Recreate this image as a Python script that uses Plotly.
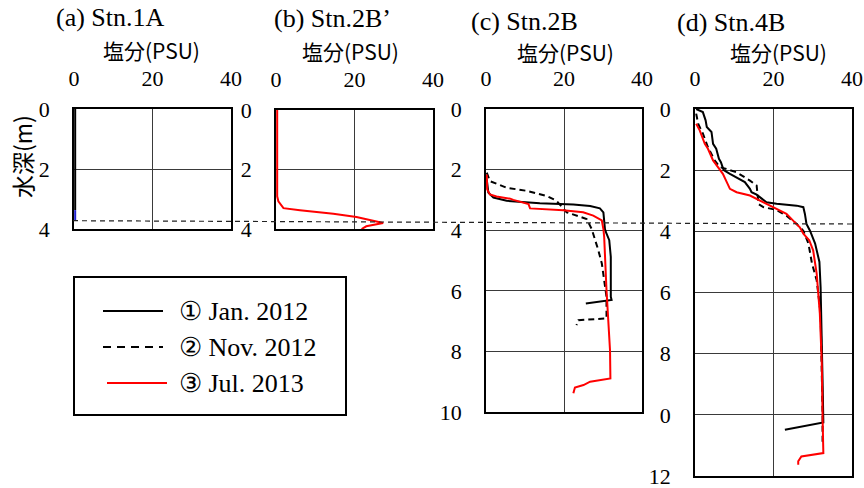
import plotly.graph_objects as go

W, H = 864, 488

# ---------------- data ----------------
# Panel (a) Stn.1A
a_sal_top = [0.3, 0.3]
a_dep_top = [0.0, 3.37]
a_sal_bot = [0.3, 0.3]
a_dep_bot = [3.37, 3.73]

# Panel (b) Stn.2B' (Jul. 2013)
b_jul_sal = [0.3, 0.3, 0.6, 1.9, 6.1, 14.6, 20.5, 24.7, 27.3, 23.0, 21.8]
b_jul_dep = [0.0, 2.9, 3.07, 3.3, 3.37, 3.49, 3.6, 3.71, 3.8, 3.91, 4.0]

# Panel (c) Stn.2B
c_jan_sal = [0.2, 0.6, 1.9, 5.3, 13.8, 22.4, 26.7, 29.2, 30.1, 30.3, 30.5, 30.7, 31.6, 32.0, 32.0, 32.2, 25.6]
c_jan_dep = [2.33, 2.76, 2.92, 3.03, 3.11, 3.15, 3.2, 3.28, 3.41, 3.74, 3.96, 4.05, 4.33, 4.88, 6.2, 6.3, 6.42]
c_nov_sal = [0.2, 1.0, 5.3, 10.4, 15.6, 18.1, 20.7, 23.2, 25.8, 27.1, 27.5, 28.8, 29.7, 30.5, 30.9, 30.9, 23.7, 23.2]
c_nov_dep = [2.1, 2.38, 2.6, 2.7, 2.87, 3.03, 3.41, 3.52, 3.63, 3.96, 4.11, 4.66, 5.1, 5.76, 6.2, 6.91, 6.97, 7.13]
c_jul_sal = [0.2, 0.3, 1.0, 2.7, 6.2, 7.0, 10.9, 11.3, 19.8, 24.9, 27.5, 29.7, 30.1, 30.3, 30.9, 31.4, 31.8, 31.9, 26.7, 25.0, 22.8, 22.4]
c_jul_dep = [2.16, 2.65, 2.82, 2.89, 2.96, 3.0, 3.14, 3.28, 3.34, 3.41, 3.52, 3.68, 3.96, 4.22, 5.98, 7.3, 7.96, 8.89, 9.0, 9.11, 9.19, 9.38]

# Panel (d) Stn.4B
d_jan_sal = [0.3, 2.0, 2.7, 3.0, 4.2, 4.6, 5.4, 6.1, 6.6, 7.3, 8.9, 11.4, 12.7, 14.0, 14.4, 15.7, 18.2, 20.8, 25.9, 27.6, 28.0, 28.4, 29.3, 30.6, 31.0, 31.7, 32.0, 32.3, 32.5, 32.7, 22.9]
d_jan_dep = [0.0, 0.1, 0.37, 0.59, 0.75, 1.14, 1.3, 1.63, 1.74, 2.0, 2.12, 2.28, 2.39, 2.61, 2.72, 2.8, 3.05, 3.1, 3.16, 3.21, 3.43, 3.76, 3.98, 4.4, 4.62, 5.0, 5.82, 7.23, 8.86, 10.25, 10.49]
d_nov_sal = [0.3, 0.8, 2.0, 3.3, 5.0, 6.3, 8.0, 10.6, 14.0, 15.7, 16.1, 16.1, 17.4, 20.8, 23.3, 25.9, 27.6, 28.9, 29.8, 31.0, 32.0, 32.3, 32.5, 32.5]
d_nov_dep = [0.15, 0.48, 0.8, 1.25, 1.68, 1.9, 1.96, 2.07, 2.34, 2.5, 3.0, 3.1, 3.21, 3.3, 3.49, 3.76, 3.98, 4.4, 5.05, 5.6, 6.68, 8.32, 9.95, 10.92]
d_jul_sal = [0.3, 1.2, 2.5, 3.3, 4.6, 6.3, 7.1, 8.9, 10.6, 14.0, 15.7, 17.4, 19.9, 21.6, 23.3, 25.0, 26.7, 27.6, 29.1, 30.1, 31.0, 31.8, 32.3, 32.5, 32.7, 27.1, 26.3, 26.3]
d_jul_dep = [0.48, 0.7, 1.14, 1.3, 1.68, 1.96, 2.12, 2.61, 2.72, 2.83, 2.94, 3.05, 3.21, 3.32, 3.43, 3.65, 3.87, 4.08, 4.29, 4.62, 5.38, 6.68, 8.32, 10.05, 11.25, 11.36, 11.52, 11.63]

panel_titles = ["(a) Stn.1A", "(b) Stn.2B\u2019", "(c) Stn.2B", "(d) Stn.4B"]
x_title = "塩分(PSU)"
y_title = "水深(m)"
x_ticks = [0, 20, 40]
y_ticks_a = [0, 2, 4]
y_ticks_c = [0, 2, 4, 6, 8, 10]
y_ticks_d = [0, 2, 4, 6, 8, 10, 12]
y_ticktext_d = ["0", "2", "4", "6", "8", "0", "12"]
legend_labels = ["\u2460 Jan. 2012", "\u2461 Nov. 2012", "\u2462 Jul. 2013"]

SERIF = "Liberation Serif"
CJK = "Noto Sans CJK JP"

# ---------------- layout geometry (pixels) ----------------
panels = [  # x0, x1, ytop, ybot, yrange max
    (74, 231, 109, 229, 4),
    (276, 433, 110, 229, 4),
    (486, 642, 109, 412, 10),
    (695, 852, 109, 476, 12),
]

def px(x):
    return x / W

def py(y):
    return 1 - y / H

fig = go.Figure()

BLACK = "#000000"
RED = "#ff0000"
LW = 2
DASH = "6px,4px"

def add(xs, ys, axis_idx, color, dash="solid", width=LW, name=""):
    sfx = "" if axis_idx == 1 else str(axis_idx)
    fig.add_trace(go.Scatter(x=xs, y=ys, mode="lines", name=name,
                             line=dict(color=color, dash=dash, width=width),
                             xaxis="x" + sfx, yaxis="y" + sfx, showlegend=False))

# (a)
add(a_sal_top, a_dep_top, 1, BLACK, width=2)
add(a_sal_bot, a_dep_bot, 1, "#2020d0", width=2)
# (b)
add(b_jul_sal, b_jul_dep, 2, RED)
# (c)
add(c_jan_sal, c_jan_dep, 3, BLACK)
add(c_nov_sal, c_nov_dep, 3, BLACK, dash=DASH)
add(c_jul_sal, c_jul_dep, 3, RED)
# (d)
add(d_jan_sal, d_jan_dep, 4, BLACK)
add(d_nov_sal, d_nov_dep, 4, BLACK, dash=DASH)
add(d_jul_sal, d_jul_dep, 4, RED)

layout = dict(width=W, height=H,
              margin=dict(l=0, r=0, t=0, b=0, pad=0, autoexpand=False),
              autosize=False,
              paper_bgcolor="white", plot_bgcolor="white", showlegend=False)

yticks_list = [(y_ticks_a, [str(v) for v in y_ticks_a]),
               (y_ticks_a, [str(v) for v in y_ticks_a]),
               (y_ticks_c, [str(v) for v in y_ticks_c]),
               (y_ticks_d, y_ticktext_d)]

for i, (x0, x1, yt, yb, ymax) in enumerate(panels):
    sfx = "" if i == 0 else str(i + 1)
    layout["xaxis" + sfx] = dict(
        domain=[px(x0), px(x1)], range=[0, 40], side="top",
        anchor="y" + sfx, tickvals=x_ticks, ticks="outside", ticklen=12,
        tickcolor="rgba(0,0,0,0)", automargin=False, ticklabeloverflow="allow",
        showgrid=True, gridcolor="#3a3a3a", gridwidth=1,
        showline=True, linecolor=BLACK, linewidth=1.5, mirror=True,
        zeroline=False, tickfont=dict(family=SERIF, size=22, color="black"),
        fixedrange=True)
    tv, tt = yticks_list[i]
    layout["yaxis" + sfx] = dict(
        domain=[py(yb), py(yt)], range=[ymax, 0], anchor="x" + sfx,
        tickvals=tv, ticktext=tt, ticks="outside", ticklen=18,
        tickcolor="rgba(0,0,0,0)", automargin=False, ticklabeloverflow="allow",
        showgrid=True, gridcolor="#3a3a3a", gridwidth=1,
        showline=True, linecolor=BLACK, linewidth=1.5, mirror=True,
        zeroline=False, tickfont=dict(family=SERIF, size=22, color="black"),
        fixedrange=True)

fig.update_layout(**layout)

annotations = []
title_pos = [(111, 18), (332, 19), (524, 21), (731, 23)]
xt_pos = [(151, 50), (350, 51), (565, 52), (778, 52)]
for t, (tx, ty) in zip(panel_titles, title_pos):
    annotations.append(dict(text=t, x=px(tx), y=py(ty), xref="paper", yref="paper",
                            showarrow=False, xanchor="center", yanchor="middle",
                            font=dict(family=SERIF, size=26, color="black")))
for (tx, ty) in xt_pos:
    annotations.append(dict(text=x_title, x=px(tx), y=py(ty), xref="paper", yref="paper",
                            showarrow=False, xanchor="center", yanchor="middle",
                            font=dict(family=CJK, size=21, color="black")))
annotations.append(dict(text=y_title, x=px(22), y=py(157), xref="paper", yref="paper",
                        showarrow=False, textangle=-90, xanchor="center", yanchor="middle",
                        font=dict(family=CJK, size=23, color="black")))

# legend (manual)
shapes = []
shapes.append(dict(type="rect", xref="paper", yref="paper",
                   x0=px(74), x1=px(346), y0=py(415), y1=py(277),
                   line=dict(color="black", width=2), fillcolor="white", layer="above"))
leg_rows = [(103, 163, 311, BLACK, "solid"), (103, 163, 347, BLACK, "8px,6px"), (107, 167, 383, RED, "solid")]
for (lx0, lx1, ly, col, dsh), lab in zip(leg_rows, legend_labels):
    shapes.append(dict(type="line", xref="paper", yref="paper",
                       x0=px(lx0), x1=px(lx1), y0=py(ly), y1=py(ly),
                       line=dict(color=col, width=2, dash=dsh), layer="above"))
    annotations.append(dict(text=lab, x=px(177), y=py(ly), xref="paper", yref="paper",
                            showarrow=False, xanchor="left", yanchor="middle",
                            font=dict(family=SERIF, size=26, color="black")))

# dashed reference line across panels
shapes.append(dict(type="line", xref="paper", yref="paper",
                   x0=px(73), x1=px(852), y0=py(220.7), y1=py(224),
                   line=dict(color="#222222", width=1.2, dash="5px,4px"), layer="above"))

fig.update_layout(annotations=annotations, shapes=shapes)
fig.write_html("out.html")
